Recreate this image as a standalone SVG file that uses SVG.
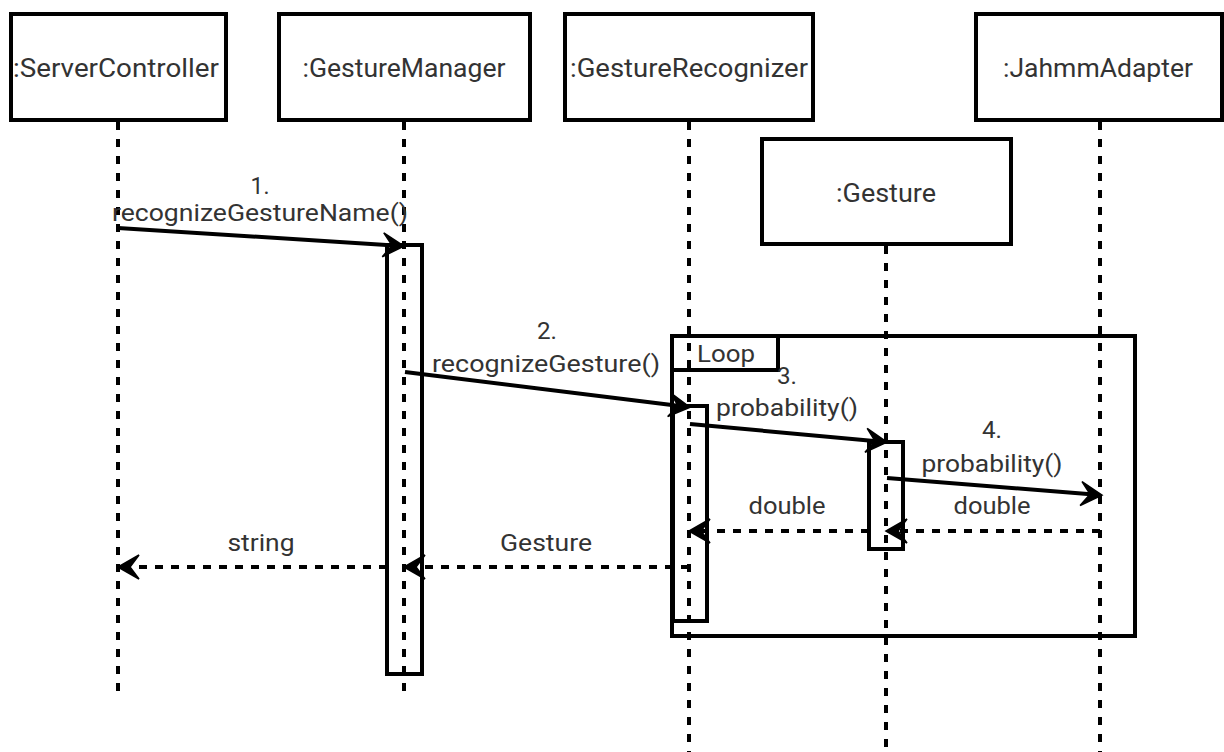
<svg xmlns="http://www.w3.org/2000/svg" width="1224" height="752" viewBox="0 0 1224 752">
  <style>
    .obj { fill: #fff; stroke: #000; stroke-width: 4; }
    .bar { fill: none; stroke: #000; stroke-width: 4; }
    .frame { fill: none; stroke: #000; stroke-width: 4; }
    .life { stroke: #000; stroke-width: 4; stroke-dasharray: 8 9; fill: none; }
    .call { stroke: #000; stroke-width: 4; fill: none; marker-end: url(#head); }
    .ret { stroke: #000; stroke-width: 4; stroke-dasharray: 8 8; fill: none; marker-end: url(#head); }
    .lbl { font-family: Roboto, "Liberation Sans", sans-serif; fill: #333; }
    .name { font-size: 25px; text-anchor: middle; }
    .msg { font-size: 24px; text-anchor: middle; }
  </style>
  <defs>
    <marker id="head" markerUnits="userSpaceOnUse" viewBox="-26 -16 30 32" refX="0" refY="0" markerWidth="30" markerHeight="32" orient="auto">
      <path d="M2,0 L-19,-12 L-10,0 L-19,12 Z" fill="#000" stroke="#000" stroke-width="1.5" stroke-linejoin="miter"/>
    </marker>
  </defs>

  <rect width="1224" height="752" fill="#fff"/>

  <!-- combined fragment -->
  <g id="loop">
    <rect class="frame" x="672" y="336" width="463" height="300"/>
    <path class="frame" d="M672,370 H778 V336"/>
    <text class="lbl msg" x="697" y="362" style="text-anchor:start" textLength="58" lengthAdjust="spacingAndGlyphs">Loop</text>
  </g>

  <!-- participants -->
  <g id="serverController">
    <rect class="obj" x="11" y="14" width="215" height="106"/>
    <text class="lbl name" x="116" y="77" textLength="206" lengthAdjust="spacingAndGlyphs">:ServerController</text>
  </g>
  <g id="gestureManager">
    <rect class="obj" x="279" y="14" width="251" height="106"/>
    <text class="lbl name" x="404" y="77" textLength="203" lengthAdjust="spacingAndGlyphs">:GestureManager</text>
  </g>
  <g id="gestureRecognizer">
    <rect class="obj" x="565" y="14" width="248" height="106"/>
    <text class="lbl name" x="689" y="77" textLength="238" lengthAdjust="spacingAndGlyphs">:GestureRecognizer</text>
  </g>
  <g id="jahmmAdapter">
    <rect class="obj" x="976" y="14" width="246" height="106"/>
    <text class="lbl name" x="1098" y="77" textLength="190" lengthAdjust="spacingAndGlyphs">:JahmmAdapter</text>
  </g>
  <g id="gesture">
    <rect class="obj" x="762" y="139" width="249" height="105"/>
    <text class="lbl name" x="886" y="202" textLength="100" lengthAdjust="spacingAndGlyphs">:Gesture</text>
  </g>

  <!-- activations -->
  <g id="activations">
    <rect class="bar" x="387" y="245" width="35" height="429"/>
    <rect class="bar" x="673" y="406" width="34" height="215"/>
    <rect class="bar" x="869" y="442" width="34" height="107"/>
  </g>

  <!-- lifelines -->
  <g id="lifelines">
    <line class="life" x1="118" y1="122" x2="118" y2="700"/>
    <line class="life" x1="404" y1="122" x2="404" y2="700"/>
    <line class="life" x1="689" y1="122" x2="689" y2="752"/>
    <line class="life" x1="886" y1="246" x2="886" y2="752"/>
    <line class="life" x1="1100" y1="122" x2="1100" y2="752"/>
  </g>

  <!-- messages -->
  <g id="connectors">
    <path class="call" d="M118,228 L402,246"/>
    <path class="call" d="M405,372 L688,407"/>
    <path class="call" d="M690,424 L885,442"/>
    <path class="call" d="M887,478 L1100,495"/>
    <path class="ret" d="M1100,531 L888,531"/>
    <path class="ret" d="M869,531 L691,531"/>
    <path class="ret" d="M689,567 L406,567"/>
    <path class="ret" d="M387,567 L120,567"/>
  </g>

  <!-- message labels -->
  <g id="labels">
    <text class="lbl msg" x="260" y="194" textLength="19" lengthAdjust="spacingAndGlyphs">1.</text>
    <text class="lbl msg" x="260" y="221" textLength="296" lengthAdjust="spacingAndGlyphs">recognizeGestureName()</text>
    <text class="lbl msg" x="547" y="339" textLength="20" lengthAdjust="spacingAndGlyphs">2.</text>
    <text class="lbl msg" x="546" y="372" textLength="228" lengthAdjust="spacingAndGlyphs">recognizeGesture()</text>
    <text class="lbl msg" x="787" y="384" textLength="20" lengthAdjust="spacingAndGlyphs">3.</text>
    <text class="lbl msg" x="787" y="416" textLength="142" lengthAdjust="spacingAndGlyphs">probability()</text>
    <text class="lbl msg" x="992" y="438" textLength="20" lengthAdjust="spacingAndGlyphs">4.</text>
    <text class="lbl msg" x="992" y="472" textLength="141" lengthAdjust="spacingAndGlyphs">probability()</text>
    <text class="lbl msg" x="787" y="514" textLength="77" lengthAdjust="spacingAndGlyphs">double</text>
    <text class="lbl msg" x="992" y="514" textLength="77" lengthAdjust="spacingAndGlyphs">double</text>
    <text class="lbl msg" x="546" y="551" textLength="92" lengthAdjust="spacingAndGlyphs">Gesture</text>
    <text class="lbl msg" x="261" y="551" textLength="67" lengthAdjust="spacingAndGlyphs">string</text>
  </g>
</svg>
